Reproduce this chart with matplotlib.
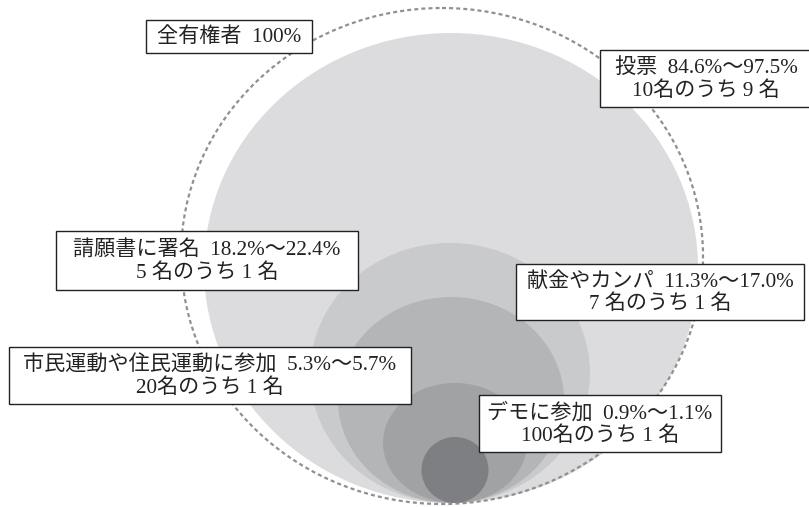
import matplotlib
matplotlib.use("Agg")
import matplotlib.pyplot as plt
from matplotlib.patches import Ellipse, Rectangle

# ---- data ----
activities = ["全有権者", "投票", "請願書に署名", "献金やカンパ", "市民運動や住民運動に参加", "デモに参加"]
range_low = [100.0, 84.6, 18.2, 11.3, 5.3, 0.9]
range_high = [None, 97.5, 22.4, 17.0, 5.7, 1.1]
ratio_text = [None, "10名のうち 9 名", "5 名のうち 1 名", "7 名のうち 1 名", "20名のうち 1 名", "100名のうち 1 名"]

# ---- layout (pixels) ----
W, H = 809, 507
# ellipse: center x, width, height, bottom
ell_cx = [442, 451, 450, 451, 455, 455]
ell_w = [522, 494, 280, 226, 144, 67]
ell_h = [496, 470, 260, 206, 120, 66]
ell_bottom = [504, 503, 503, 503, 503, 503]
ell_fill = [None, "#dcdcde", "#c9cacc", "#b4b5b7", "#a1a2a4", "#7e7f83"]
# label boxes: x0, y0, x1, y1
boxes = [(146, 20, 312, 53), (600, 50, 812, 107), (56, 231, 358, 290),
         (516, 264, 804, 320), (9, 347, 411, 404), (479, 395, 721, 452)]

fig = plt.figure(figsize=(W / 100, H / 100), dpi=100)
ax = fig.add_axes([0, 0, 1, 1])
ax.set_xlim(0, W)
ax.set_ylim(H, 0)
ax.axis("off")

for i in range(1, len(activities)):
    e = Ellipse((ell_cx[i], ell_bottom[i] - ell_h[i] / 2), ell_w[i], ell_h[i],
                facecolor=ell_fill[i], edgecolor="none", zorder=1 + i)
    ax.add_patch(e)

outer = Ellipse((ell_cx[0], ell_bottom[0] - ell_h[0] / 2), ell_w[0], ell_h[0],
                facecolor="none", edgecolor="#909090", linewidth=1.6,
                linestyle=(0, (1.8, 1.4)), zorder=10)
ax.add_patch(outer)

fam = ["Liberation Serif", "Noto Sans CJK JP"]
for i, name in enumerate(activities):
    if range_high[i] is None:
        txt = f"{name}  {range_low[i]:.0f}%"
    else:
        txt = f"{name}  {range_low[i]:.1f}%～{range_high[i]:.1f}%\n{ratio_text[i]}"
    x0, y0, x1, y1 = boxes[i]
    ax.add_patch(Rectangle((x0, y0), x1 - x0, y1 - y0, facecolor="white",
                           edgecolor="#222222", linewidth=1.0, zorder=20))
    ax.text((x0 + x1) / 2, (y0 + y1) / 2 + 1, txt, ha="center", va="center",
            fontsize=15.2, family=fam, color="#222222", linespacing=1.2,
            zorder=21, multialignment="center")

fig.savefig("out.png", dpi=100, facecolor="white")
